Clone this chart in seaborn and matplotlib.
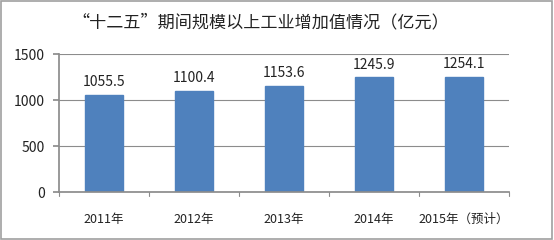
import matplotlib
matplotlib.use("Agg")
import matplotlib.pyplot as plt
import seaborn as sns
import pandas as pd
from matplotlib.patches import Rectangle

categories = ["2011年", "2012年", "2013年", "2014年", "2015年（预计）"]
values = [1055.5, 1100.4, 1153.6, 1245.9, 1254.1]
yticks = [0, 500, 1000, 1500]

sns.set_theme(style="white")
plt.rcParams['font.family'] = ['Noto Sans CJK SC', 'DejaVu Sans']

df = pd.DataFrame({"year": categories, "value": values})

fig = plt.figure(figsize=(5.54, 2.40), dpi=100)
ax = fig.add_axes([59/554, 1-192/240, (509-59)/554, (192-54)/240])
sns.barplot(data=df, x="year", y="value", color="#4F81BD", width=0.43,
            saturation=1, ax=ax, edgecolor="#4F81BD")

ax.set_ylim(0, 1500)
ax.set_yticks(yticks)
ax.set_xlim(-0.5, len(categories)-0.5)
ax.yaxis.grid(True, color="#8c8c8c", linewidth=0.8)
ax.set_axisbelow(True)
for s in ["top", "right"]:
    ax.spines[s].set_visible(False)
ax.spines["left"].set_color("#8c8c8c")
ax.spines["bottom"].set_color("#8c8c8c")
ax.set_xlabel("")
ax.set_ylabel("")
ax.tick_params(axis="y", labelsize=10, left=True, length=4, color="#8c8c8c", pad=6, labelcolor="#222222")
ax.tick_params(axis="x", labelsize=9, bottom=False, pad=9, labelcolor="#222222")
# separator ticks between categories
for xb in [i - 0.5 for i in range(len(categories)+1)]:
    ax.plot([xb, xb], [0, -0.03], transform=ax.get_xaxis_transform(), color="#8c8c8c",
            linewidth=0.8, clip_on=False)

for i, v in enumerate(values):
    ax.text(i, v + 60, f"{v:.1f}", ha="center", va="bottom", fontsize=10, color="#222222")

fig.text(0.47, 1-22/240, "“十二五”期间规模以上工业增加值情况（亿元）", ha="center", va="center",
         fontsize=12.3, color="#222222")
fig.patches.append(Rectangle((0.002, 0.004), 0.994, 0.99, transform=fig.transFigure,
                             fill=False, edgecolor="#a0a0a0", linewidth=1.2))

fig.savefig("out.png", dpi=100)
